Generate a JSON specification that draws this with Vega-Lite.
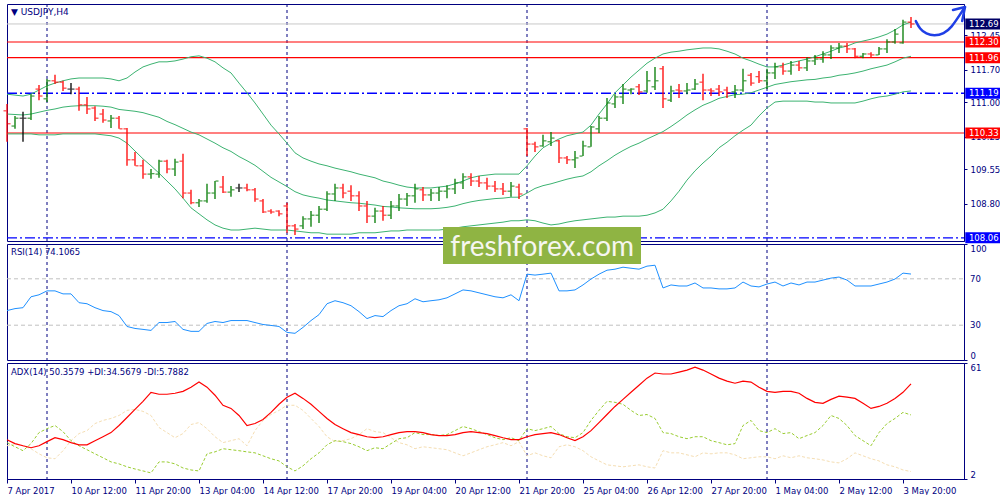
{
"$schema":"https://vega.github.io/schema/vega-lite/v6.json",
"padding":{"left":3,"top":3,"right":0,"bottom":0},
"background":"#ffffff",
"config":{"view":{"stroke":"#000080","strokeWidth":1},"axis":{"labelFont":"DejaVu Sans","labelFontSize":8.5,"labelColor":"#000080","tickColor":"#000080","domainColor":"#000080","grid":false,"tickSize":3,"labelPadding":3,"labelOverlap":false},"text":{"font":"DejaVu Sans"}},
"datasets":{
"weeks":[{"i":5},{"i":35},{"i":65},{"i":95}],
"rsilevels":[{"v":30},{"v":70}],
"levels":[{"p":112.69,"kind":"price"},{"p":112.30,"kind":"res"},{"p":111.96,"kind":"res"},{"p":111.19,"kind":"sup"},{"p":110.33,"kind":"res"},{"p":108.06,"kind":"sup"}],
"arrow":[{"seg":"a","k":0,"x":113.6,"p":112.754},{"seg":"a","k":1,"x":114.1,"p":112.581},{"seg":"a","k":2,"x":114.9,"p":112.473},{"seg":"a","k":3,"x":115.9,"p":112.429},{"seg":"a","k":4,"x":117.1,"p":112.473},{"seg":"a","k":5,"x":118.1,"p":112.624},{"seg":"a","k":6,"x":119.0,"p":112.862},{"seg":"a","k":7,"x":119.75,"p":113.057},{"seg":"h","k":0,"x":118.25,"p":112.992},{"seg":"h","k":1,"x":119.75,"p":113.057},{"seg":"h","k":2,"x":119.4,"p":112.754}],
"bars":[
{"i":0,"o":110.81,"h":110.96,"l":110.14,"c":110.53,"u":111.17,"m":110.74,"lo":110.31,"rsi":42.6,"adx":22.0,"pdi":20.5,"mdi":18.9},
{"i":1,"o":110.48,"h":110.70,"l":110.42,"c":110.65,"u":111.15,"m":110.73,"lo":110.31,"rsi":44.3,"adx":20.0,"pdi":18.4,"mdi":20.0},
{"i":2,"o":110.65,"h":110.79,"l":110.14,"c":110.65,"u":111.13,"m":110.72,"lo":110.31,"rsi":45.1,"adx":18.9,"pdi":16.4,"mdi":18.9},
{"i":3,"o":110.65,"h":111.17,"l":110.61,"c":111.13,"u":111.17,"m":110.74,"lo":110.31,"rsi":54.5,"adx":17.9,"pdi":20.0,"mdi":17.4},
{"i":4,"o":111.28,"h":111.37,"l":111.04,"c":111.13,"u":111.26,"m":110.78,"lo":110.29,"rsi":56.2,"adx":18.9,"pdi":25.6,"mdi":14.8},
{"i":5,"o":111.07,"h":111.50,"l":111.00,"c":111.46,"u":111.35,"m":110.82,"lo":110.29,"rsi":59.6,"adx":21.0,"pdi":27.6,"mdi":12.8},
{"i":6,"o":111.46,"h":111.59,"l":111.39,"c":111.43,"u":111.41,"m":110.85,"lo":110.29,"rsi":59.6,"adx":23.0,"pdi":29.2,"mdi":12.3},
{"i":7,"o":111.43,"h":111.46,"l":111.24,"c":111.30,"u":111.46,"m":110.89,"lo":110.31,"rsi":57.0,"adx":22.0,"pdi":26.1,"mdi":16.4},
{"i":8,"o":111.28,"h":111.41,"l":111.17,"c":111.28,"u":111.50,"m":110.91,"lo":110.31,"rsi":57.0,"adx":20.5,"pdi":21.5,"mdi":21.5},
{"i":9,"o":111.28,"h":111.33,"l":110.81,"c":110.94,"u":111.52,"m":110.92,"lo":110.31,"rsi":49.4,"adx":19.4,"pdi":18.9,"mdi":25.1},
{"i":10,"o":110.94,"h":111.11,"l":110.74,"c":110.85,"u":111.52,"m":110.92,"lo":110.31,"rsi":48.5,"adx":19.4,"pdi":16.9,"mdi":26.6},
{"i":11,"o":110.87,"h":110.91,"l":110.59,"c":110.65,"u":111.52,"m":110.92,"lo":110.31,"rsi":45.1,"adx":21.5,"pdi":14.8,"mdi":30.2},
{"i":12,"o":110.74,"h":110.85,"l":110.55,"c":110.61,"u":111.52,"m":110.91,"lo":110.29,"rsi":42.6,"adx":23.5,"pdi":12.8,"mdi":31.8},
{"i":13,"o":110.59,"h":110.72,"l":110.44,"c":110.65,"u":111.50,"m":110.89,"lo":110.27,"rsi":41.7,"adx":25.6,"pdi":10.7,"mdi":32.8},
{"i":14,"o":110.65,"h":110.70,"l":110.42,"c":110.42,"u":111.46,"m":110.84,"lo":110.22,"rsi":38.3,"adx":29.2,"pdi":9.7,"mdi":34.3},
{"i":15,"o":110.42,"h":110.44,"l":109.62,"c":109.75,"u":111.52,"m":110.82,"lo":110.11,"rsi":28.9,"adx":33.3,"pdi":8.2,"mdi":36.9},
{"i":16,"o":109.75,"h":109.92,"l":109.62,"c":109.62,"u":111.65,"m":110.80,"lo":109.94,"rsi":27.2,"adx":37.4,"pdi":7.1,"mdi":37.4},
{"i":17,"o":109.62,"h":109.75,"l":109.34,"c":109.44,"u":111.76,"m":110.77,"lo":109.77,"rsi":26.4,"adx":41.5,"pdi":6.1,"mdi":36.4},
{"i":18,"o":109.44,"h":109.55,"l":109.34,"c":109.45,"u":111.82,"m":110.72,"lo":109.62,"rsi":25.5,"adx":46.1,"pdi":5.1,"mdi":34.3},
{"i":19,"o":109.44,"h":109.75,"l":109.36,"c":109.72,"u":111.87,"m":110.67,"lo":109.46,"rsi":32.3,"adx":45.1,"pdi":10.7,"mdi":28.2},
{"i":20,"o":109.72,"h":109.75,"l":109.46,"c":109.55,"u":111.87,"m":110.58,"lo":109.29,"rsi":32.3,"adx":45.1,"pdi":10.7,"mdi":25.6},
{"i":21,"o":109.55,"h":109.77,"l":109.40,"c":109.70,"u":111.89,"m":110.51,"lo":109.12,"rsi":33.2,"adx":45.6,"pdi":9.7,"mdi":23.0},
{"i":22,"o":109.72,"h":109.88,"l":108.92,"c":109.03,"u":111.93,"m":110.43,"lo":108.92,"rsi":26.4,"adx":46.6,"pdi":7.6,"mdi":25.1},
{"i":23,"o":109.03,"h":109.10,"l":108.79,"c":108.82,"u":111.98,"m":110.35,"lo":108.71,"rsi":24.7,"adx":48.7,"pdi":6.6,"mdi":29.7},
{"i":24,"o":108.82,"h":108.90,"l":108.73,"c":108.86,"u":112.00,"m":110.29,"lo":108.58,"rsi":24.7,"adx":51.3,"pdi":6.1,"mdi":30.7},
{"i":25,"o":108.86,"h":109.23,"l":108.82,"c":109.03,"u":111.95,"m":110.20,"lo":108.45,"rsi":31.5,"adx":48.7,"pdi":14.8,"mdi":27.6},
{"i":26,"o":109.03,"h":109.29,"l":108.90,"c":109.29,"u":111.87,"m":110.11,"lo":108.34,"rsi":33.2,"adx":44.6,"pdi":15.8,"mdi":23.5},
{"i":27,"o":109.16,"h":109.40,"l":109.03,"c":109.05,"u":111.74,"m":110.01,"lo":108.27,"rsi":32.3,"adx":39.5,"pdi":17.4,"mdi":20.5},
{"i":28,"o":109.05,"h":109.18,"l":108.95,"c":109.10,"u":111.63,"m":109.93,"lo":108.23,"rsi":34.0,"adx":37.9,"pdi":16.9,"mdi":21.5},
{"i":29,"o":109.14,"h":109.23,"l":109.05,"c":109.14,"u":111.41,"m":109.82,"lo":108.23,"rsi":34.0,"adx":34.3,"pdi":16.4,"mdi":22.5},
{"i":30,"o":109.14,"h":109.23,"l":109.07,"c":109.10,"u":111.20,"m":109.73,"lo":108.25,"rsi":34.0,"adx":29.2,"pdi":15.8,"mdi":18.9},
{"i":31,"o":109.10,"h":109.14,"l":108.84,"c":108.90,"u":110.98,"m":109.63,"lo":108.27,"rsi":32.3,"adx":30.2,"pdi":15.3,"mdi":26.6},
{"i":32,"o":108.86,"h":108.90,"l":108.60,"c":108.62,"u":110.74,"m":109.50,"lo":108.25,"rsi":30.6,"adx":32.3,"pdi":13.8,"mdi":31.8},
{"i":33,"o":108.64,"h":108.68,"l":108.58,"c":108.62,"u":110.50,"m":109.37,"lo":108.23,"rsi":29.8,"adx":35.9,"pdi":12.3,"mdi":34.8},
{"i":34,"o":108.64,"h":108.66,"l":108.53,"c":108.58,"u":110.31,"m":109.27,"lo":108.23,"rsi":28.9,"adx":40.0,"pdi":11.2,"mdi":36.9},
{"i":35,"o":108.75,"h":108.82,"l":108.17,"c":108.32,"u":110.11,"m":109.17,"lo":108.23,"rsi":23.8,"adx":43.6,"pdi":8.2,"mdi":39.5},
{"i":36,"o":108.32,"h":108.36,"l":108.12,"c":108.25,"u":109.90,"m":109.06,"lo":108.21,"rsi":23.0,"adx":45.6,"pdi":6.1,"mdi":39.5},
{"i":37,"o":108.32,"h":108.53,"l":108.25,"c":108.47,"u":109.79,"m":108.99,"lo":108.19,"rsi":28.1,"adx":43.0,"pdi":8.7,"mdi":36.9},
{"i":38,"o":108.47,"h":108.64,"l":108.30,"c":108.55,"u":109.72,"m":108.95,"lo":108.17,"rsi":34.0,"adx":40.0,"pdi":12.3,"mdi":32.8},
{"i":39,"o":108.55,"h":108.75,"l":108.38,"c":108.68,"u":109.66,"m":108.92,"lo":108.17,"rsi":39.1,"adx":36.4,"pdi":15.3,"mdi":28.7},
{"i":40,"o":108.68,"h":109.07,"l":108.64,"c":109.01,"u":109.62,"m":108.88,"lo":108.14,"rsi":48.5,"adx":32.8,"pdi":19.4,"mdi":23.5},
{"i":41,"o":109.01,"h":109.23,"l":108.86,"c":109.14,"u":109.57,"m":108.86,"lo":108.14,"rsi":51.1,"adx":29.7,"pdi":21.5,"mdi":21.0},
{"i":42,"o":109.14,"h":109.23,"l":108.92,"c":109.03,"u":109.53,"m":108.84,"lo":108.14,"rsi":49.4,"adx":27.6,"pdi":21.0,"mdi":21.5},
{"i":43,"o":109.07,"h":109.20,"l":108.86,"c":108.97,"u":109.49,"m":108.82,"lo":108.14,"rsi":46.8,"adx":25.6,"pdi":20.0,"mdi":22.5},
{"i":44,"o":108.97,"h":109.07,"l":108.64,"c":108.75,"u":109.44,"m":108.81,"lo":108.17,"rsi":41.7,"adx":24.6,"pdi":18.4,"mdi":24.6},
{"i":45,"o":108.75,"h":108.86,"l":108.38,"c":108.53,"u":109.40,"m":108.79,"lo":108.17,"rsi":35.7,"adx":23.5,"pdi":16.4,"mdi":27.6},
{"i":46,"o":108.53,"h":108.71,"l":108.38,"c":108.64,"u":109.36,"m":108.77,"lo":108.17,"rsi":38.3,"adx":23.0,"pdi":17.9,"mdi":26.1},
{"i":47,"o":108.64,"h":108.75,"l":108.43,"c":108.55,"u":109.29,"m":108.74,"lo":108.19,"rsi":37.4,"adx":23.5,"pdi":17.4,"mdi":25.6},
{"i":48,"o":108.55,"h":108.86,"l":108.47,"c":108.75,"u":109.25,"m":108.73,"lo":108.21,"rsi":42.6,"adx":24.6,"pdi":20.0,"mdi":23.0},
{"i":49,"o":108.75,"h":109.01,"l":108.64,"c":108.90,"u":109.20,"m":108.71,"lo":108.21,"rsi":46.8,"adx":25.6,"pdi":22.5,"mdi":20.5},
{"i":50,"o":108.90,"h":109.03,"l":108.75,"c":108.97,"u":109.16,"m":108.70,"lo":108.23,"rsi":48.5,"adx":26.1,"pdi":23.0,"mdi":19.4},
{"i":51,"o":108.97,"h":109.23,"l":108.82,"c":109.12,"u":109.14,"m":108.69,"lo":108.23,"rsi":52.8,"adx":26.1,"pdi":25.6,"mdi":17.4},
{"i":52,"o":109.10,"h":109.16,"l":108.86,"c":108.99,"u":109.14,"m":108.69,"lo":108.23,"rsi":50.2,"adx":25.6,"pdi":24.6,"mdi":18.4},
{"i":53,"o":108.99,"h":109.12,"l":108.86,"c":109.03,"u":109.14,"m":108.69,"lo":108.23,"rsi":51.1,"adx":24.6,"pdi":24.6,"mdi":17.9},
{"i":54,"o":109.03,"h":109.16,"l":108.86,"c":109.07,"u":109.16,"m":108.70,"lo":108.23,"rsi":51.9,"adx":24.1,"pdi":24.1,"mdi":17.4},
{"i":55,"o":109.07,"h":109.20,"l":108.92,"c":109.12,"u":109.18,"m":108.72,"lo":108.25,"rsi":53.6,"adx":24.1,"pdi":24.6,"mdi":16.9},
{"i":56,"o":109.12,"h":109.34,"l":109.01,"c":109.25,"u":109.23,"m":108.75,"lo":108.27,"rsi":57.0,"adx":24.6,"pdi":26.6,"mdi":15.3},
{"i":57,"o":109.25,"h":109.46,"l":109.12,"c":109.38,"u":109.29,"m":108.80,"lo":108.30,"rsi":60.4,"adx":25.6,"pdi":28.7,"mdi":13.8},
{"i":58,"o":109.38,"h":109.46,"l":109.18,"c":109.29,"u":109.36,"m":108.84,"lo":108.32,"rsi":59.6,"adx":26.1,"pdi":27.6,"mdi":15.3},
{"i":59,"o":109.29,"h":109.40,"l":109.16,"c":109.25,"u":109.40,"m":108.87,"lo":108.34,"rsi":57.9,"adx":25.6,"pdi":26.1,"mdi":16.9},
{"i":60,"o":109.25,"h":109.36,"l":109.10,"c":109.18,"u":109.42,"m":108.89,"lo":108.36,"rsi":56.2,"adx":25.1,"pdi":24.6,"mdi":18.4},
{"i":61,"o":109.18,"h":109.29,"l":109.05,"c":109.12,"u":109.44,"m":108.91,"lo":108.38,"rsi":54.5,"adx":24.1,"pdi":23.0,"mdi":19.4},
{"i":62,"o":109.12,"h":109.25,"l":108.99,"c":109.07,"u":109.44,"m":108.92,"lo":108.40,"rsi":53.6,"adx":23.0,"pdi":22.0,"mdi":20.5},
{"i":63,"o":109.07,"h":109.27,"l":108.95,"c":109.18,"u":109.44,"m":108.94,"lo":108.43,"rsi":56.2,"adx":22.0,"pdi":23.0,"mdi":18.9},
{"i":64,"o":109.16,"h":109.23,"l":108.90,"c":109.01,"u":109.44,"m":108.94,"lo":108.43,"rsi":51.1,"adx":22.0,"pdi":21.5,"mdi":21.0},
{"i":65,"o":110.42,"h":110.44,"l":109.83,"c":110.09,"u":109.62,"m":109.03,"lo":108.45,"rsi":74.0,"adx":23.5,"pdi":27.6,"mdi":13.8},
{"i":66,"o":110.09,"h":110.14,"l":109.92,"c":110.03,"u":109.83,"m":109.13,"lo":108.43,"rsi":73.2,"adx":24.6,"pdi":26.6,"mdi":15.3},
{"i":67,"o":110.05,"h":110.29,"l":110.03,"c":110.16,"u":110.01,"m":109.19,"lo":108.38,"rsi":74.0,"adx":25.1,"pdi":27.6,"mdi":13.8},
{"i":68,"o":110.14,"h":110.35,"l":110.05,"c":110.22,"u":110.11,"m":109.23,"lo":108.34,"rsi":74.9,"adx":25.6,"pdi":28.7,"mdi":12.8},
{"i":69,"o":110.16,"h":110.18,"l":109.68,"c":109.79,"u":110.20,"m":109.28,"lo":108.36,"rsi":59.6,"adx":24.6,"pdi":25.1,"mdi":18.4},
{"i":70,"o":109.79,"h":109.83,"l":109.66,"c":109.75,"u":110.27,"m":109.33,"lo":108.40,"rsi":59.6,"adx":23.0,"pdi":23.5,"mdi":19.4},
{"i":71,"o":109.75,"h":109.94,"l":109.57,"c":109.79,"u":110.31,"m":109.37,"lo":108.43,"rsi":60.4,"adx":21.5,"pdi":23.0,"mdi":18.4},
{"i":72,"o":109.83,"h":110.16,"l":109.83,"c":110.05,"u":110.35,"m":109.40,"lo":108.45,"rsi":64.7,"adx":23.5,"pdi":25.6,"mdi":16.4},
{"i":73,"o":110.03,"h":110.48,"l":110.03,"c":110.46,"u":110.50,"m":109.49,"lo":108.47,"rsi":69.8,"adx":26.6,"pdi":31.8,"mdi":13.3},
{"i":74,"o":110.42,"h":110.70,"l":110.33,"c":110.65,"u":110.74,"m":109.62,"lo":108.49,"rsi":74.0,"adx":30.7,"pdi":36.9,"mdi":11.2},
{"i":75,"o":110.65,"h":111.09,"l":110.59,"c":110.98,"u":110.96,"m":109.73,"lo":108.51,"rsi":77.4,"adx":34.8,"pdi":41.5,"mdi":9.2},
{"i":76,"o":110.96,"h":111.17,"l":110.87,"c":111.11,"u":111.20,"m":109.85,"lo":108.51,"rsi":78.3,"adx":38.9,"pdi":41.0,"mdi":8.7},
{"i":77,"o":111.11,"h":111.39,"l":110.96,"c":111.28,"u":111.37,"m":109.95,"lo":108.53,"rsi":80.0,"adx":42.5,"pdi":40.0,"mdi":8.2},
{"i":78,"o":111.26,"h":111.30,"l":111.17,"c":111.28,"u":111.54,"m":110.04,"lo":108.53,"rsi":79.1,"adx":46.1,"pdi":36.9,"mdi":8.7},
{"i":79,"o":111.33,"h":111.39,"l":111.15,"c":111.22,"u":111.69,"m":110.11,"lo":108.53,"rsi":78.3,"adx":49.7,"pdi":34.3,"mdi":9.2},
{"i":80,"o":111.24,"h":111.67,"l":111.20,"c":111.46,"u":111.84,"m":110.20,"lo":108.55,"rsi":80.9,"adx":53.3,"pdi":34.8,"mdi":8.2},
{"i":81,"o":111.33,"h":111.76,"l":111.26,"c":111.46,"u":111.95,"m":110.28,"lo":108.60,"rsi":81.7,"adx":55.9,"pdi":32.8,"mdi":7.6},
{"i":82,"o":111.72,"h":111.78,"l":110.87,"c":111.07,"u":112.04,"m":110.36,"lo":108.68,"rsi":62.1,"adx":55.4,"pdi":25.6,"mdi":16.4},
{"i":83,"o":111.04,"h":111.35,"l":111.00,"c":111.24,"u":112.08,"m":110.47,"lo":108.86,"rsi":64.7,"adx":55.4,"pdi":25.1,"mdi":15.3},
{"i":84,"o":111.26,"h":111.39,"l":111.09,"c":111.24,"u":112.10,"m":110.59,"lo":109.07,"rsi":63.8,"adx":56.4,"pdi":23.5,"mdi":15.3},
{"i":85,"o":111.24,"h":111.41,"l":111.17,"c":111.26,"u":112.13,"m":110.72,"lo":109.31,"rsi":63.8,"adx":57.4,"pdi":22.5,"mdi":14.3},
{"i":86,"o":111.28,"h":111.50,"l":111.26,"c":111.39,"u":112.15,"m":110.83,"lo":109.51,"rsi":66.4,"adx":58.9,"pdi":23.5,"mdi":13.3},
{"i":87,"o":111.43,"h":111.61,"l":111.04,"c":111.26,"u":112.17,"m":110.93,"lo":109.68,"rsi":62.1,"adx":57.4,"pdi":23.5,"mdi":15.3},
{"i":88,"o":111.26,"h":111.30,"l":111.13,"c":111.24,"u":112.17,"m":111.00,"lo":109.83,"rsi":62.1,"adx":55.4,"pdi":21.5,"mdi":14.8},
{"i":89,"o":111.28,"h":111.37,"l":111.13,"c":111.22,"u":112.15,"m":111.08,"lo":110.01,"rsi":61.3,"adx":53.3,"pdi":20.5,"mdi":15.3},
{"i":90,"o":111.26,"h":111.33,"l":111.09,"c":111.20,"u":112.10,"m":111.12,"lo":110.13,"rsi":61.3,"adx":51.8,"pdi":19.4,"mdi":15.3},
{"i":91,"o":111.22,"h":111.37,"l":111.09,"c":111.26,"u":112.04,"m":111.16,"lo":110.27,"rsi":62.1,"adx":50.7,"pdi":20.0,"mdi":14.3},
{"i":92,"o":111.26,"h":111.72,"l":111.22,"c":111.46,"u":111.95,"m":111.17,"lo":110.39,"rsi":67.2,"adx":51.8,"pdi":29.2,"mdi":12.3},
{"i":93,"o":111.58,"h":111.63,"l":111.35,"c":111.41,"u":111.89,"m":111.20,"lo":110.50,"rsi":63.8,"adx":51.3,"pdi":31.8,"mdi":12.8},
{"i":94,"o":111.55,"h":111.67,"l":111.41,"c":111.46,"u":111.82,"m":111.26,"lo":110.70,"rsi":63.0,"adx":48.7,"pdi":26.6,"mdi":13.3},
{"i":95,"o":111.46,"h":111.72,"l":111.28,"c":111.63,"u":111.76,"m":111.32,"lo":110.87,"rsi":65.5,"adx":46.6,"pdi":25.6,"mdi":13.3},
{"i":96,"o":111.63,"h":111.85,"l":111.50,"c":111.76,"u":111.76,"m":111.38,"lo":111.00,"rsi":67.2,"adx":46.1,"pdi":27.6,"mdi":12.3},
{"i":97,"o":111.76,"h":111.85,"l":111.59,"c":111.67,"u":111.80,"m":111.41,"lo":111.02,"rsi":63.8,"adx":46.6,"pdi":25.1,"mdi":13.8},
{"i":98,"o":111.67,"h":111.89,"l":111.59,"c":111.80,"u":111.85,"m":111.44,"lo":111.02,"rsi":66.4,"adx":46.6,"pdi":25.6,"mdi":12.8},
{"i":99,"o":111.80,"h":111.89,"l":111.67,"c":111.74,"u":111.89,"m":111.46,"lo":111.02,"rsi":64.7,"adx":45.6,"pdi":22.5,"mdi":13.8},
{"i":100,"o":111.74,"h":111.97,"l":111.67,"c":111.89,"u":111.93,"m":111.48,"lo":111.02,"rsi":67.2,"adx":43.0,"pdi":24.1,"mdi":12.8},
{"i":101,"o":111.89,"h":112.02,"l":111.80,"c":111.93,"u":111.98,"m":111.49,"lo":111.00,"rsi":67.2,"adx":41.0,"pdi":25.6,"mdi":12.3},
{"i":102,"o":111.93,"h":112.10,"l":111.85,"c":112.02,"u":112.04,"m":111.52,"lo":111.00,"rsi":68.9,"adx":40.5,"pdi":29.2,"mdi":11.7},
{"i":103,"o":112.02,"h":112.23,"l":111.93,"c":112.17,"u":112.10,"m":111.54,"lo":110.98,"rsi":70.6,"adx":42.5,"pdi":34.3,"mdi":10.7},
{"i":104,"o":112.17,"h":112.28,"l":112.06,"c":112.21,"u":112.17,"m":111.58,"lo":110.98,"rsi":71.5,"adx":44.1,"pdi":32.8,"mdi":10.2},
{"i":105,"o":112.21,"h":112.28,"l":112.06,"c":112.15,"u":112.21,"m":111.60,"lo":110.98,"rsi":68.9,"adx":43.6,"pdi":29.2,"mdi":12.3},
{"i":106,"o":112.15,"h":112.17,"l":111.95,"c":111.99,"u":112.28,"m":111.63,"lo":110.98,"rsi":63.8,"adx":43.0,"pdi":24.1,"mdi":15.3},
{"i":107,"o":111.99,"h":112.06,"l":111.95,"c":112.04,"u":112.32,"m":111.67,"lo":111.02,"rsi":63.8,"adx":40.5,"pdi":21.5,"mdi":13.8},
{"i":108,"o":112.04,"h":112.08,"l":111.97,"c":112.02,"u":112.36,"m":111.72,"lo":111.07,"rsi":63.8,"adx":37.9,"pdi":18.9,"mdi":12.3},
{"i":109,"o":112.02,"h":112.19,"l":112.02,"c":112.15,"u":112.41,"m":111.76,"lo":111.11,"rsi":65.5,"adx":38.9,"pdi":25.6,"mdi":11.2},
{"i":110,"o":112.15,"h":112.36,"l":112.06,"c":112.30,"u":112.47,"m":111.80,"lo":111.13,"rsi":67.2,"adx":40.5,"pdi":30.2,"mdi":9.2},
{"i":111,"o":112.30,"h":112.58,"l":112.26,"c":112.47,"u":112.56,"m":111.87,"lo":111.17,"rsi":69.8,"adx":43.0,"pdi":32.8,"mdi":8.2},
{"i":112,"o":112.28,"h":112.78,"l":112.26,"c":112.73,"u":112.67,"m":111.95,"lo":111.22,"rsi":74.9,"adx":46.1,"pdi":35.9,"mdi":6.6},
{"i":113,"o":112.73,"h":112.84,"l":112.60,"c":112.69,"u":112.73,"m":111.99,"lo":111.24,"rsi":74.11,"adx":50.36,"pdi":34.57,"mdi":5.79}
]},
"bounds":"flush",
"spacing":3,
"resolve":{"scale":{"x":"independent","y":"independent"}},
"vconcat":[
{"width":957,"height":237,"layer":[
{"data":{"name":"weeks"},"mark":{"type":"rule","color":"#000080","strokeDash":[3,3],"strokeWidth":1},"encoding":{"x":{"field":"i","type":"quantitative","scale":{"domain":[0,119.625],"nice":false,"zero":false},"axis":null}}},
{"data":{"name":"levels"},"transform":[{"filter":"datum.kind === 'price'"}],"mark":{"type":"rule","color":"#c8c8c8","strokeWidth":1},"encoding":{"x":{"datum":0,"type":"quantitative","scale":{"domain":[0,119.625],"nice":false,"zero":false},"axis":null},"x2":{"datum":119.625},"y":{"field":"p","type":"quantitative","scale":{"domain":[107.992,113.122],"nice":false,"zero":false},"title":null}}},
{"data":{"name":"levels"},"transform":[{"filter":"datum.kind === 'res'"}],"mark":{"type":"rule","color":"#ff0000","strokeWidth":1.2},"encoding":{"x":{"datum":0,"type":"quantitative","scale":{"domain":[0,119.625],"nice":false,"zero":false},"axis":null},"x2":{"datum":119.625},"y":{"field":"p","type":"quantitative","scale":{"domain":[107.992,113.122],"nice":false,"zero":false},"title":null}}},
{"data":{"name":"levels"},"transform":[{"filter":"datum.kind === 'sup'"}],"mark":{"type":"rule","color":"#0000ff","strokeWidth":1.4,"strokeDash":[10,3,2,3]},"encoding":{"x":{"datum":0,"type":"quantitative","scale":{"domain":[0,119.625],"nice":false,"zero":false},"axis":null},"x2":{"datum":119.625},"y":{"field":"p","type":"quantitative","scale":{"domain":[107.992,113.122],"nice":false,"zero":false},"title":null}}},
{"data":{"name":"bars"},"mark":{"type":"line","color":"#3cb371","strokeWidth":1},"encoding":{"x":{"field":"i","type":"quantitative","scale":{"domain":[0,119.625],"nice":false,"zero":false},"axis":null},"y":{"field":"u","type":"quantitative","scale":{"domain":[107.992,113.122],"nice":false,"zero":false},"title":null,"axis":{"orient":"right","values":[112.45,111.70,111.00,110.25,109.55,108.80],"format":".2f","title":null,"tickSize":3,"labelPadding":3,"labelOverlap":false}}}},
{"data":{"name":"bars"},"mark":{"type":"line","color":"#3cb371","strokeWidth":1},"encoding":{"x":{"field":"i","type":"quantitative","scale":{"domain":[0,119.625],"nice":false,"zero":false},"axis":null},"y":{"field":"m","type":"quantitative","scale":{"domain":[107.992,113.122],"nice":false,"zero":false},"title":null}}},
{"data":{"name":"bars"},"mark":{"type":"line","color":"#3cb371","strokeWidth":1},"encoding":{"x":{"field":"i","type":"quantitative","scale":{"domain":[0,119.625],"nice":false,"zero":false},"axis":null},"y":{"field":"lo","type":"quantitative","scale":{"domain":[107.992,113.122],"nice":false,"zero":false},"title":null}}},
{"data":{"name":"bars"},"mark":{"type":"rule","strokeWidth":1.3},"encoding":{"x":{"field":"i","type":"quantitative","scale":{"domain":[0,119.625],"nice":false,"zero":false},"axis":null},"y":{"field":"l","type":"quantitative","scale":{"domain":[107.992,113.122],"nice":false,"zero":false},"title":null},"y2":{"field":"h"},"color":{"condition":[{"test":"datum.c > datum.o","value":"#007a00"},{"test":"datum.c < datum.o","value":"#ff0000"}],"value":"#000000"}}},
{"data":{"name":"bars"},"mark":{"type":"tick","orient":"horizontal","size":3,"thickness":1.3,"xOffset":-2},"encoding":{"x":{"field":"i","type":"quantitative","scale":{"domain":[0,119.625],"nice":false,"zero":false},"axis":null},"y":{"field":"o","type":"quantitative","scale":{"domain":[107.992,113.122],"nice":false,"zero":false},"title":null},"color":{"condition":[{"test":"datum.c > datum.o","value":"#007a00"},{"test":"datum.c < datum.o","value":"#ff0000"}],"value":"#000000"}}},
{"data":{"name":"bars"},"mark":{"type":"tick","orient":"horizontal","size":3,"thickness":1.3,"xOffset":2},"encoding":{"x":{"field":"i","type":"quantitative","scale":{"domain":[0,119.625],"nice":false,"zero":false},"axis":null},"y":{"field":"c","type":"quantitative","scale":{"domain":[107.992,113.122],"nice":false,"zero":false},"title":null},"color":{"condition":[{"test":"datum.c > datum.o","value":"#007a00"},{"test":"datum.c < datum.o","value":"#ff0000"}],"value":"#000000"}}},
{"data":{"name":"levels"},"mark":{"type":"tick","orient":"horizontal","size":37,"thickness":11,"clip":false,"opacity":1},"encoding":{"x":{"datum":122.1,"type":"quantitative","scale":{"domain":[0,119.625],"nice":false,"zero":false},"axis":null},"y":{"field":"p","type":"quantitative","scale":{"domain":[107.992,113.122],"nice":false,"zero":false},"title":null},"color":{"condition":[{"test":"datum.kind === 'res'","value":"#ff0000"},{"test":"datum.kind === 'sup'","value":"#0000ff"}],"value":"#000066"}}},
{"data":{"name":"levels"},"mark":{"type":"text","color":"#ffffff","fontSize":8.5,"align":"center","baseline":"middle","clip":false},"encoding":{"x":{"datum":122.1,"type":"quantitative","scale":{"domain":[0,119.625],"nice":false,"zero":false},"axis":null},"y":{"field":"p","type":"quantitative","scale":{"domain":[107.992,113.122],"nice":false,"zero":false},"title":null},"text":{"field":"p","type":"quantitative","format":".2f"}}},
{"data":{"values":[{"t":"▼ USDJPY,H4"}]},"mark":{"type":"text","color":"#000080","fontSize":9,"align":"left","baseline":"top","dx":4,"dy":4},"encoding":{"x":{"datum":0,"type":"quantitative","scale":{"domain":[0,119.625],"nice":false,"zero":false},"axis":null},"y":{"datum":113.122,"type":"quantitative","scale":{"domain":[107.992,113.122],"nice":false,"zero":false},"title":null},"text":{"field":"t"}}},
{"data":{"name":"arrow"},"transform":[{"filter":"datum.seg === 'a'"}],"mark":{"type":"line","color":"#1f3fe6","strokeWidth":2.5,"interpolate":"basis","clip":false,"strokeCap":"round","strokeJoin":"round"},"encoding":{"x":{"field":"x","type":"quantitative","scale":{"domain":[0,119.625],"nice":false,"zero":false},"axis":null},"y":{"field":"p","type":"quantitative","scale":{"domain":[107.992,113.122],"nice":false,"zero":false},"title":null},"order":{"field":"k"}}},
{"data":{"name":"arrow"},"transform":[{"filter":"datum.seg === 'h'"}],"mark":{"type":"line","color":"#1f3fe6","strokeWidth":2.5,"clip":false,"strokeCap":"round","strokeJoin":"round"},"encoding":{"x":{"field":"x","type":"quantitative","scale":{"domain":[0,119.625],"nice":false,"zero":false},"axis":null},"y":{"field":"p","type":"quantitative","scale":{"domain":[107.992,113.122],"nice":false,"zero":false},"title":null},"order":{"field":"k"}}}
]},
{"width":957,"height":116,"layer":[
{"data":{"name":"weeks"},"mark":{"type":"rule","color":"#000080","strokeDash":[3,3],"strokeWidth":1},"encoding":{"x":{"field":"i","type":"quantitative","scale":{"domain":[0,119.625],"nice":false,"zero":false},"axis":null}}},
{"data":{"name":"rsilevels"},"mark":{"type":"rule","color":"#c0c0c0","strokeDash":[4,3],"strokeWidth":1},"encoding":{"x":{"datum":0,"type":"quantitative","scale":{"domain":[0,119.625],"nice":false,"zero":false},"axis":null},"x2":{"datum":119.625},"y":{"field":"v","type":"quantitative","scale":{"domain":[0,100],"nice":false,"zero":false},"title":null,"axis":{"orient":"right","values":[0,30,70,100],"labelOverlap":false,"labelBaseline":{"condition":[{"test":"datum.value >= 100","value":"top"},{"test":"datum.value <= 0","value":"bottom"}],"value":"middle"},"title":null,"tickSize":3}}}},
{"data":{"name":"bars"},"mark":{"type":"line","color":"#1e90ff","strokeWidth":1},"encoding":{"x":{"field":"i","type":"quantitative","scale":{"domain":[0,119.625],"nice":false,"zero":false},"axis":null},"y":{"field":"rsi","type":"quantitative","scale":{"domain":[0,100],"nice":false,"zero":false},"title":null}}},
{"data":{"name":"rsilevels"},"mark":{"type":"text","color":"#000080","fontSize":8.5,"align":"left","baseline":"middle","clip":false,"dx":6},"encoding":{"x":{"datum":119.625,"type":"quantitative","scale":{"domain":[0,119.625],"nice":false,"zero":false},"axis":null},"y":{"field":"v","type":"quantitative","scale":{"domain":[0,100],"nice":false,"zero":false},"title":null},"text":{"field":"v","type":"quantitative"}}},
{"data":{"values":[{"t":"RSI(14) 74.1065"}]},"mark":{"type":"text","color":"#000080","fontSize":8.5,"align":"left","baseline":"top","dx":4,"dy":4},"encoding":{"x":{"datum":0,"type":"quantitative","scale":{"domain":[0,119.625],"nice":false,"zero":false},"axis":null},"y":{"datum":100,"type":"quantitative","scale":{"domain":[0,100],"nice":false,"zero":false},"title":null},"text":{"field":"t"}}},
{"data":{"values":[{"t":"freshforex.com"}]},"mark":{"type":"rect","color":"#8fb443","clip":false},"encoding":{"x":{"datum":54.5,"type":"quantitative","scale":{"domain":[0,119.625],"nice":false,"zero":false},"axis":null},"x2":{"datum":79.25},"y":{"datum":114.7,"type":"quantitative","scale":{"domain":[0,100],"nice":false,"zero":false},"title":null},"y2":{"datum":82.8}}},
{"data":{"values":[{"t":"freshforex.com"}]},"mark":{"type":"text","color":"#f6f6f0","font":"Lato","fontSize":28,"align":"center","baseline":"alphabetic","clip":false},"encoding":{"x":{"datum":66.9,"type":"quantitative","scale":{"domain":[0,119.625],"nice":false,"zero":false},"axis":null},"y":{"datum":89.7,"type":"quantitative","scale":{"domain":[0,100],"nice":false,"zero":false},"title":null},"text":{"field":"t"}}}
]},
{"width":957,"height":116,"layer":[
{"data":{"name":"weeks"},"mark":{"type":"rule","color":"#000080","strokeDash":[3,3],"strokeWidth":1},"encoding":{"x":{"field":"i","type":"quantitative","scale":{"domain":[0,119.625],"nice":false,"zero":false},"title":null}}},
{"data":{"name":"bars"},"mark":{"type":"line","color":"#f5deb3","strokeWidth":1,"strokeDash":[3,2]},"encoding":{"x":{"field":"i","type":"quantitative","scale":{"domain":[0,119.625],"nice":false,"zero":false},"title":null},"y":{"field":"mdi","type":"quantitative","scale":{"domain":[2,61],"nice":false,"zero":false},"title":null}}},
{"data":{"name":"bars"},"mark":{"type":"line","color":"#9acd32","strokeWidth":1,"strokeDash":[3,2]},"encoding":{"x":{"field":"i","type":"quantitative","scale":{"domain":[0,119.625],"nice":false,"zero":false},"title":null},"y":{"field":"pdi","type":"quantitative","scale":{"domain":[2,61],"nice":false,"zero":false},"title":null}}},
{"data":{"name":"bars"},"mark":{"type":"line","color":"#ff0000","strokeWidth":1.2},"encoding":{"x":{"field":"i","type":"quantitative","scale":{"domain":[0,119.625],"nice":false,"zero":false},"title":null,"axis":{"orient":"bottom","values":[0,8,16,24,32,40,48,56,64,72,80,88,96,104,112],"labelExpr":"['7 Apr 2017','10 Apr 12:00','11 Apr 20:00','13 Apr 04:00','14 Apr 12:00','17 Apr 20:00','19 Apr 04:00','20 Apr 12:00','21 Apr 20:00','25 Apr 04:00','26 Apr 12:00','27 Apr 20:00','1 May 04:00','2 May 12:00','3 May 20:00'][round(datum.value/8)]","labelAlign":"left","labelOverlap":false,"labelFlush":false,"labelBound":false,"tickSize":4,"labelPadding":3,"title":null}},"y":{"field":"adx","type":"quantitative","scale":{"domain":[2,61],"nice":false,"zero":false},"title":null,"axis":{"orient":"right","values":[2,61],"labelFlush":true,"labelOverlap":false,"title":null,"tickSize":3}}}},
{"data":{"values":[{"t":"ADX(14) 50.3579 +DI:34.5679 -DI:5.7882"}]},"mark":{"type":"text","color":"#000080","fontSize":8.5,"align":"left","baseline":"top","dx":4,"dy":5},"encoding":{"x":{"datum":0,"type":"quantitative","scale":{"domain":[0,119.625],"nice":false,"zero":false},"title":null},"y":{"datum":61,"type":"quantitative","scale":{"domain":[2,61],"nice":false,"zero":false},"title":null},"text":{"field":"t"}}}
]}
]
}
